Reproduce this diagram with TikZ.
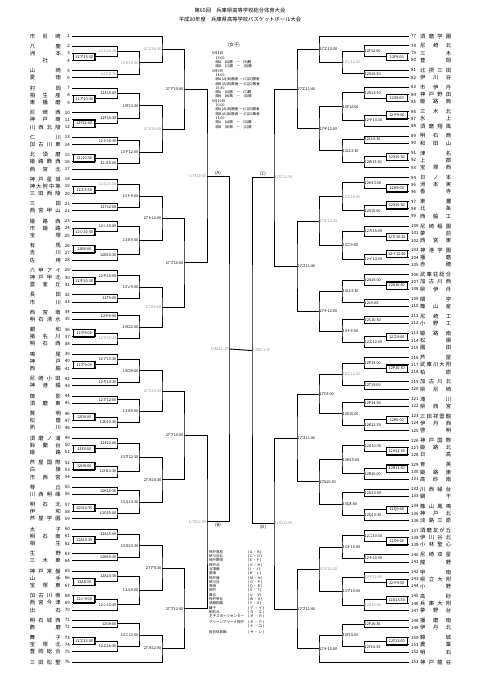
\documentclass[tikz,border=0pt]{standalone}
\usepackage{fontspec}
\newfontfamily\jp{Noto Sans CJK JP}
\usetikzlibrary{calc}

% running row positions (left and right lists)
\newcommand\yl{25.83}
\newcommand\yr{26.08}
\newcommand\siL{7.2}
\newcommand\sgL{10.17}
\newcommand\siR{7.2}
\newcommand\sgR{9.92}
\newcommand\jn[1]{\makebox[31pt][s]{\spaceskip=0pt plus 1fil\relax #1}}
\newcommand\gry[1]{\textcolor{black!45}{#1}}

\tikzset{
  br/.style={line width=.95pt},
  nmL/.style={anchor=east, inner sep=0pt, font=\jp\fontsize{5.3}{6}\selectfont},
  nmR/.style={anchor=west, inner sep=0pt, font=\jp\fontsize{5.3}{6}\selectfont},
  nrL/.style={anchor=east, inner sep=0pt, font=\jp\fontsize{4.4}{5}\selectfont},
  nrR/.style={anchor=west, inner sep=0pt, font=\jp\fontsize{4.4}{5}\selectfont},
  lab/.style={inner sep=.5pt, font=\jp\fontsize{3.8}{4}\selectfont},
  labL/.style={lab, anchor=east},
  labR/.style={lab, anchor=west},
  boxL/.style={labL, draw, line width=.55pt, minimum height=7.2pt, minimum width=21pt, inner sep=0pt},
  boxR/.style={labR, draw, line width=.55pt, minimum height=7.2pt, minimum width=21pt, inner sep=0pt},
  ttl/.style={font=\jp\fontsize{5.3}{6}\selectfont, inner sep=0pt},
  info/.style={font=\jp\fontsize{3.5}{4.3}\selectfont, align=left, inner sep=0pt},
  grp/.style={font=\jp\fontsize{4.4}{5}\selectfont, inner sep=.8pt}
}

% teams
\newcommand\tL[3]{%
  \pgfmathsetmacro\ytmp{\yl+\csname s#1L\endcsname}\xdef\yl{\ytmp}%
  \node[nmL] (n#2) at (61,\yl) {\jn{#3}};
  \node[nrL] (k#2) at (70,\yl) {#2};
  \coordinate (t#2) at (72,\yl);}
\newcommand\tR[3]{%
  \pgfmathsetmacro\ytmp{\yr+\csname s#1R\endcsname}\xdef\yr{\ytmp}%
  \node[nmR] (n#2) at (420,\yr) {\jn{#3}};
  \node[nrR] (k#2) at (411,\yr) {#2};
  \coordinate (t#2) at (409,\yr);}
% games
\newcommand\gL[5]{%
  \path (#2) -- (#3) coordinate[pos=.5] (m#1);
  \coordinate (#1) at (XL#4 |- m#1);
  \draw[br] (#2) -| (#1) |- (#3);
  \node[labL] (q#1) at (#1) {#5};}
\newcommand\gR[5]{%
  \path (#2) -- (#3) coordinate[pos=.5] (m#1);
  \coordinate (#1) at (XR#4 |- m#1);
  \draw[br] (#2) -| (#1) |- (#3);
  \node[labR] (q#1) at (#1) {#5};}
\newcommand\bL[4]{%
  \path (#2) -- (#3) coordinate[pos=.5] (m#1);
  \coordinate (#1) at (XL1 |- m#1);
  \draw[br] (#2) -| (#1) |- (#3);
  \node[boxL] (q#1) at (#1) {#4};}
\newcommand\bR[4]{%
  \path (#2) -- (#3) coordinate[pos=.5] (m#1);
  \coordinate (#1) at (XR1 |- m#1);
  \draw[br] (#2) -| (#1) |- (#3);
  \node[boxR] (q#1) at (#1) {#4};}

\begin{document}
\begin{tikzpicture}[x=1pt,y=-1pt]
\useasboundingbox (0,0) rectangle (481,680);
% round columns
\foreach \i/\x in {1/95,2/117,3/139,4/162,5/184,6/207,7/229}{
  \coordinate (XL\i) at (\x,0);
  \coordinate (XR\i) at ({481-\x},0);}

% title
\node[ttl] (ta) at (240,10) {第65回　兵庫県高等学校総合体育大会};
\node[ttl] (tb) at (240,19) {平成30年度　兵庫県高等学校バスケットボール大会};

% left list
\tL{g}{1}{市 尼 崎}
\tL{g}{2}{八 鹿}
\tL{i}{3}{洲 本}
\tL{i}{4}{\hfil 社\hfil}
\tL{g}{5}{山 崎}
\tL{i}{6}{愛 徳}
\tL{g}{7}{村 岡}
\tL{i}{8}{相 生 産}
\tL{i}{9}{東 播 磨}
\tL{g}{10}{尼 崎 西}
\tL{i}{11}{神 戸 商}
\tL{i}{12}{川 西 北 陵}
\tL{g}{13}{仁 川}
\tL{i}{14}{加 古 川 東}
\tL{g}{15}{北 須 磨}
\tL{i}{16}{姫 路 飾 西}
\tL{i}{17}{西 宮 北}
\tL{g}{18}{神 戸 星 城}
\tL{i}{19}{神 大 附 中 等}
\tL{i}{20}{三 田 西 陵}
\tL{g}{21}{三 田}
\tL{i}{22}{西 宮 甲 山}
\tL{g}{23}{姫 路 西}
\tL{i}{24}{市 姫 路}
\tL{i}{25}{宝 塚}
\tL{g}{26}{有 馬}
\tL{i}{27}{吉 川}
\tL{i}{28}{佐 用}
\tL{g}{29}{六 甲 ア イ}
\tL{i}{30}{神 戸 甲 北}
\tL{i}{31}{雲 雀 丘}
\tL{g}{32}{長 田}
\tL{i}{33}{市 川}
\tL{g}{34}{西 宮 南}
\tL{i}{35}{明 石 清 水}
\tL{g}{36}{親 和}
\tL{i}{37}{猪 名 川}
\tL{i}{38}{明 石 西}
\tL{g}{39}{鳴 尾}
\tL{i}{40}{神 戸}
\tL{i}{41}{西 脇}
\tL{g}{42}{尼 崎 小 田}
\tL{i}{43}{神 港 橘}
\tL{g}{44}{御 影}
\tL{i}{45}{須 磨 東}
\tL{g}{46}{賢 明}
\tL{i}{47}{松 蔭}
\tL{i}{48}{夙 川}
\tL{g}{49}{須 磨 ノ 浦}
\tL{i}{50}{鈴 蘭 台}
\tL{i}{51}{姫 路}
\tL{g}{52}{芦 屋 国 際}
\tL{i}{53}{白 陵}
\tL{i}{54}{市 西 宮}
\tL{g}{55}{琴 丘}
\tL{i}{56}{川 西 明 峰}
\tL{g}{57}{明 石 北}
\tL{i}{58}{伊 和}
\tL{i}{59}{芦 屋 学 園}
\tL{g}{60}{太 子}
\tL{i}{61}{明 石 南}
\tL{i}{62}{相 生}
\tL{g}{63}{生 野}
\tL{i}{64}{三 木 東}
\tL{g}{65}{神 戸 常 盤}
\tL{i}{66}{山 手}
\tL{i}{67}{宝 塚 東}
\tL{g}{68}{加 古 川 南}
\tL{i}{69}{西 宮 今 津}
\tL{i}{70}{出 石}
\tL{g}{71}{明 石 城 西}
\tL{i}{72}{飾 磨}
\tL{g}{73}{舞 子}
\tL{i}{74}{宝 塚 北}
\tL{i}{75}{豊 岡 総 合}
\tL{g}{76}{三 田 松 聖}

% right list
\tR{g}{77}{須 磨 学 園}
\tR{g}{78}{尼 崎 北}
\tR{i}{79}{三 木}
\tR{i}{80}{豊 岡}
\tR{g}{81}{北 摂 三 田}
\tR{i}{82}{伊 川 谷}
\tR{g}{83}{市 伊 丹}
\tR{i}{84}{神 戸 野 田}
\tR{i}{85}{姫 路 商}
\tR{g}{86}{三 木 北}
\tR{i}{87}{氷 上}
\tR{i}{88}{須 磨 翔 風}
\tR{g}{89}{明 石 商}
\tR{i}{90}{和 田 山}
\tR{g}{91}{津 名}
\tR{i}{92}{上 郡}
\tR{i}{93}{宝 塚 西}
\tR{g}{94}{日 ノ 本}
\tR{i}{95}{洲 本 実}
\tR{i}{96}{香 寺}
\tR{g}{97}{東 灘}
\tR{i}{98}{北 条}
\tR{i}{99}{西 脇 工}
\tR{g}{100}{尼 崎 稲 園}
\tR{i}{101}{夢 前}
\tR{i}{102}{西 宮 東}
\tR{g}{103}{神 港 学 園}
\tR{i}{104}{播 磨}
\tR{i}{105}{赤 穂}
\tR{g}{106}{武 庫 荘 総 合}
\tR{i}{107}{加 古 川 西}
\tR{i}{108}{県 伊 丹}
\tR{g}{109}{関 学}
\tR{i}{110}{篠 山 産}
\tR{g}{111}{尼 崎 工}
\tR{i}{112}{小 野 工}
\tR{g}{113}{姫 路 南}
\tR{i}{114}{松 陽}
\tR{i}{115}{園 田}
\tR{g}{116}{芦 屋}
\tR{i}{117}{武 庫 川 大 附}
\tR{i}{118}{柏 原}
\tR{g}{119}{加 古 川 北}
\tR{i}{120}{県 尼 崎}
\tR{g}{121}{滝 川}
\tR{i}{122}{県 西 宮}
\tR{g}{123}{三 田 祥 雲 館}
\tR{i}{124}{伊 丹 西}
\tR{i}{125}{啓 明}
\tR{g}{126}{神 戸 国 際}
\tR{i}{127}{姫 路 北}
\tR{i}{128}{日 高}
\tR{g}{129}{育 英}
\tR{i}{130}{姫 路 東}
\tR{i}{131}{高 砂 南}
\tR{g}{132}{川 西 緑 台}
\tR{i}{133}{網 干}
\tR{g}{134}{篠 山 鳳 鳴}
\tR{i}{135}{神 戸 北}
\tR{i}{136}{淡 路 三 原}
\tR{g}{137}{須 磨 友 が 丘}
\tR{i}{138}{伊 川 谷 北}
\tR{i}{139}{小 林 聖 心}
\tR{g}{140}{尼 崎 双 星}
\tR{i}{141}{龍 野}
\tR{g}{142}{甲 南}
\tR{i}{143}{県 立 大 附}
\tR{i}{144}{小 野}
\tR{g}{145}{高 砂}
\tR{i}{146}{兵 庫 大 附}
\tR{i}{147}{夢 野 台}
\tR{g}{148}{播 磨 南}
\tR{i}{149}{伊 丹 北}
\tR{g}{150}{錦 城}
\tR{i}{151}{農 業}
\tR{i}{152}{明 石}
\tR{g}{153}{神 戸 龍 谷}

% left bracket, block (A)
\bL{la1}{t3}{t4}{12ア13:30}
\gL{lb1}{t2}{la1}{2}{\gry{12エ14:30}}
\gL{lb2}{t5}{t6}{2}{\gry{12エ8:30}}
\gL{lc1}{lb1}{lb2}{3}{\gry{13ヌ10:30}}
\gL{ld1}{t1}{lc1}{4}{\gry{27エ10:30}}
\bL{la2}{t8}{t9}{12ア10:30}
\gL{lb3}{t7}{la2}{2}{12E15:00}
\bL{la3}{t11}{t12}{12F12:00}
\gL{lb4}{t10}{la3}{2}{12F15:30}
\gL{lc2}{lb3}{lb4}{3}{13F13:30}
\gL{lb5}{t13}{t14}{2}{12ト16:30}
\bL{la4}{t15}{t16}{12J10:30}
\gL{lb6}{la4}{t17}{2}{12J15:00}
\gL{lc3}{lb5}{lb6}{3}{13ヤ12:00}
\gL{ld2}{lc2}{lc3}{4}{\gry{27ヌ10:00}}
\gL{le1}{ld1}{ld2}{5}{27ア10:00}
\bL{la5}{t19}{t20}{12エ8:30}
\gL{lb7}{t18}{la5}{2}{\gry{12エ13:30}}
\gL{lb8}{t21}{t22}{2}{12T12:00}
\gL{lc4}{lb7}{lb8}{3}{13ト9:00}
\bL{la6}{t24}{t25}{12シ10:30}
\gL{lb9}{t23}{la6}{2}{12シ15:00}
\bL{la7}{t26}{t27}{12B9:00}
\gL{lb10}{la7}{t28}{2}{12B13:30}
\gL{lc5}{lb9}{lb10}{3}{13ヌ9:00}
\gL{ld3}{lc4}{lc5}{4}{27ト12:00}
\bL{la8}{t30}{t31}{12キ10:30}
\gL{lb11}{t29}{la8}{2}{12キ15:00}
\gL{lb12}{t32}{t33}{2}{12T9:00}
\gL{lc6}{lb11}{lb12}{3}{13ソ9:00}
\gL{lb13}{t34}{t35}{2}{12テ9:00}
\bL{la9}{t36}{t37}{12ヲ9:00}
\gL{lb14}{la9}{t38}{2}{\gry{12ヲ13:30}}
\gL{lc7}{lb13}{lb14}{3}{13X12:00}
\gL{ld4}{lc6}{lc7}{4}{\gry{27ヌ8:00}}
\gL{le2}{ld3}{ld4}{5}{27ブ10:00}
\gL{lA}{le1}{le2}{6}{\gry{1/7A10:00}}

% left bracket, block (B)
\bL{la10}{t40}{t41}{12ア9:00}
\gL{lb15}{t39}{la10}{2}{12ア13:30}
\gL{lb16}{t42}{t43}{2}{12キ13:30}
\gL{lc8}{lb15}{lb16}{3}{13ロ9:00}
\gL{lb17}{t44}{t45}{2}{12ア12:00}
\bL{la11}{t46}{t47}{12D9:00}
\gL{lb18}{la11}{t48}{2}{12D13:30}
\gL{lc9}{lb17}{lb18}{3}{13ヨ9:00}
\gL{ld5}{lc8}{lc9}{4}{\gry{27カ10:00}}
\bL{la12}{t50}{t51}{12E9:00}
\gL{lb19}{t49}{la12}{2}{12E12:00}
\bL{la13}{t52}{t53}{12H9:00}
\gL{lb20}{la13}{t54}{2}{12H13:30}
\gL{lc10}{lb19}{lb20}{3}{13オ12:30}
\gL{lb21}{t55}{t56}{2}{12K10:30}
\bL{la14}{t57}{t58}{12G10:30}
\gL{lb22}{la14}{t59}{2}{12G15:00}
\gL{lc11}{lb21}{lb22}{3}{13ル13:30}
\gL{ld6}{lc10}{lc11}{4}{27ヨ10:30}
\gL{le3}{ld5}{ld6}{5}{27プ10:00}
\bL{la15}{t61}{t62}{12A10:30}
\gL{lb23}{t60}{la15}{2}{12A15:00}
\gL{lb24}{t63}{t64}{2}{12B10:30}
\gL{lc12}{lb23}{lb24}{3}{13ヨ13:30}
\bL{la16}{t66}{t67}{12A8:30}
\gL{lb25}{t65}{la16}{2}{12A13:30}
\bL{la17}{t68}{t69}{12シ9:00}
\gL{lb26}{la17}{t70}{2}{12シ13:30}
\gL{lc13}{lb25}{lb26}{3}{13ル9:00}
\gL{ld7}{lc12}{lc13}{4}{27ア8:30}
\gL{lb27}{t71}{t72}{2}{12G9:00}
\bL{la18}{t73}{t74}{12エ12:00}
\gL{lb28}{la18}{t75}{2}{12エ16:30}
\gL{lc14}{lb27}{lb28}{3}{13ニ12:00}
\gL{ld8}{lc14}{t76}{4}{27ヨ12:00}
\gL{le4}{ld7}{ld8}{5}{27ブ12:00}
\gL{lB}{le3}{le4}{6}{\gry{1/7B11:00}}
\gL{lS}{lA}{lB}{7}{\gry{1/8A11:30}}

% right bracket, block (C)
\bR{ra1}{t79}{t80}{12F9:00}
\gR{rb1}{t78}{ra1}{2}{12F12:00}
\gR{rb2}{t81}{t82}{2}{12S10:30}
\gR{rc1}{rb1}{rb2}{3}{\gry{13ソ12:30}}
\gR{rd1}{t77}{rc1}{4}{27エ13:30}
\bR{ra2}{t84}{t85}{12S9:00}
\gR{rb3}{t83}{ra2}{2}{12S13:30}
\bR{ra3}{t86}{t87}{12テ9:00}
\gR{rb4}{ra3}{t88}{2}{12テ13:30}
\gR{rc2}{rb3}{rb4}{3}{13F12:00}
\gR{rb5}{t89}{t90}{2}{12L10:30}
\bR{ra4}{t91}{t92}{12X10:30}
\gR{rb6}{ra4}{t93}{2}{12W13:30}
\gR{rc3}{rb5}{rb6}{3}{13L13:30}
\gR{rd2}{rc2}{rc3}{4}{27チ12:00}
\gR{re1}{rd1}{rd2}{5}{27エ11:40}
\bR{ra5}{t95}{t96}{12H9:00}
\gR{rb7}{t94}{ra5}{2}{12H13:30}
\bR{ra6}{t97}{t98}{12X10:30}
\gR{rb8}{ra6}{t99}{2}{12X15:00}
\gR{rc4}{rb7}{rb8}{3}{\gry{13エ10:30}}
\bR{ra7}{t101}{t102}{12カ10:30}
\gR{rb9}{t100}{ra7}{2}{12カ15:00}
\bR{ra8}{t103}{t104}{12イ12:00}
\gR{rb10}{ra8}{t105}{2}{12イ14:30}
\gR{rc5}{rb9}{rb10}{3}{13ニ9:00}
\gR{rd3}{rc4}{rc5}{4}{\gry{27エ12:00}}
\bR{ra9}{t107}{t108}{12A10:30}
\gR{rb11}{t106}{ra9}{2}{12A15:00}
\gR{rb12}{t109}{t110}{2}{12L9:00}
\gR{rc6}{rb11}{rb12}{3}{13L13:30}
\gR{rb13}{t111}{t112}{2}{12C10:30}
\bR{ra10}{t113}{t114}{12エ9:00}
\gR{rb14}{ra10}{t115}{2}{12エ12:30}
\gR{rc7}{rb13}{rb14}{3}{13ナ9:00}
\gR{rd4}{rc6}{rc7}{4}{27ナ12:00}
\gR{re2}{rd3}{rd4}{5}{27ゴ11:40}
\gR{rC}{re1}{re2}{6}{\gry{1/7C12:30}}

% right bracket, block (D)
\bR{ra11}{t117}{t118}{12P10:30}
\gR{rb15}{t116}{ra11}{2}{12P15:00}
\gR{rb16}{t119}{t120}{2}{12T15:00}
\gR{rc8}{rb15}{rb16}{3}{\gry{13エ12:30}}
\gR{rb17}{t121}{t122}{2}{12P14:30}
\bR{ra12}{t123}{t124}{12K9:00}
\gR{rb18}{ra12}{t125}{2}{12K12:30}
\gR{rc9}{rb17}{rb18}{3}{13X15:00}
\gR{rd5}{rc8}{rc9}{4}{27C9:00}
\bR{ra13}{t127}{t128}{12H12:00}
\gR{rb19}{t126}{ra13}{2}{12G10:30}
\bR{ra14}{t129}{t130}{12R13:30}
\gR{rb20}{ra14}{t131}{2}{12R16:00}
\gR{rc10}{rb19}{rb20}{3}{13H15:00}
\gR{rb21}{t132}{t133}{2}{12U13:30}
\bR{ra15}{t134}{t135}{12Q9:00}
\gR{rb22}{ra15}{t136}{2}{12Q13:30}
\gR{rc11}{rb21}{rb22}{3}{13Q8:00}
\gR{rd6}{rc10}{rc11}{4}{27A10:30}
\gR{re3}{rd5}{rd6}{5}{27ゴ11:40}
\bR{ra16}{t138}{t139}{12O9:00}
\gR{rb23}{t137}{ra16}{2}{12ニ10:30}
\gR{rb24}{t140}{t141}{2}{12ナ10:30}
\gR{rc12}{rb23}{rb24}{3}{13ナ15:00}
\bR{ra17}{t143}{t144}{12テ9:00}
\gR{rb25}{t142}{ra17}{2}{\gry{12テ11:00}}
\bR{ra18}{t145}{t146}{12D13:30}
\gR{rb26}{ra18}{t147}{2}{\gry{12D16:00}}
\gR{rc13}{rb25}{rb26}{3}{13ア15:00}
\gR{rd7}{rc12}{rc13}{4}{\gry{27タ12:30}}
\gR{rb27}{t148}{t149}{2}{12F16:30}
\bR{ra19}{t150}{t151}{12Y12:00}
\gR{rb28}{ra19}{t152}{2}{12Y16:30}
\gR{rc14}{rb27}{rb28}{3}{13Y15:00}
\gR{rd8}{rc14}{t153}{4}{27ナ15:00}
\gR{re4}{rd7}{rd8}{5}{27ブ11:40}
\gR{rD}{re3}{re4}{6}{\gry{1/7D11:00}}
\gR{rS}{rC}{rD}{7}{\gry{1/8B11:30}}

% final line
\draw[br] (lS) -- (rS);

% block marks
\node[grp, above] (pA) at ($(lA)+(11,0)$) {(A)};
\node[grp, below] (pB) at ($(lB)+(11,0)$) {(B)};
\node[grp, above] (pC) at ($(rC)+(-11,0)$) {(C)};
\node[grp, below] (pD) at ($(rD)+(-11,0)$) {(D)};

% schedule
\node[grp] (joshi) at (234,45) {(女子)};
\node[info, anchor=north west] (plan) at (212,52) {%
6月8日\\
　13:00\\
　順A　(A)勝　－　(B)勝\\
　順B　(C)勝　－　(D)勝\\
6月9日\\
　13:00\\
　順A (A)(B)勝者 － (C)(D)勝者\\
　順B (A)(B)敗者 － (C)(D)敗者\\
　15:30\\
　順A　(A)勝　－　(C)勝\\
　順B　(B)敗　－　(D)敗\\
6月10日\\
　10:00\\
　順A (A)(B)勝者 － (C)(D)勝者\\
　順B (A)(B)敗者 － (C)(D)敗者\\
　13:00\\
　順A　(A)勝　－　(D)勝\\
　順B　(B)敗　－　(C)敗};

% venues
\node[info, anchor=north west] (venue) at (209,550) {%
\begin{tabular}{@{}l@{\hspace{4pt}}l@{}}
神戸高校 & ( A ・ B )\\
伊川谷北 & ( C ・ D )\\
神戸野田 & ( E ・ F )\\
神戸北 & ( G ・ H )\\
北須磨 & ( I ・ J )\\
星陵 & ( K ・ L )\\
神戸商 & ( M ・ N )\\
伊川谷 & ( O ・ P )\\
長田 & ( Q ・ R )\\
神戸 & ( S ・ T )\\
葺合 & ( U ・ V )\\
神戸甲北 & ( W ・ X )\\
須磨翔風 & ( Y ・ Z )\\
舞子 & ( ア ・ イ )\\
明石北 & ( ウ ・ エ )\\
王子スポーツセンター & ( オ ・ カ )\\[1pt]
グリーンアリーナ神戸 & ( キ ・ ク )\\
 & ( ケ ・ コ )\\[2pt]
総合体育館 & ( サ ・ シ )
\end{tabular}};
\end{tikzpicture}
\end{document}
